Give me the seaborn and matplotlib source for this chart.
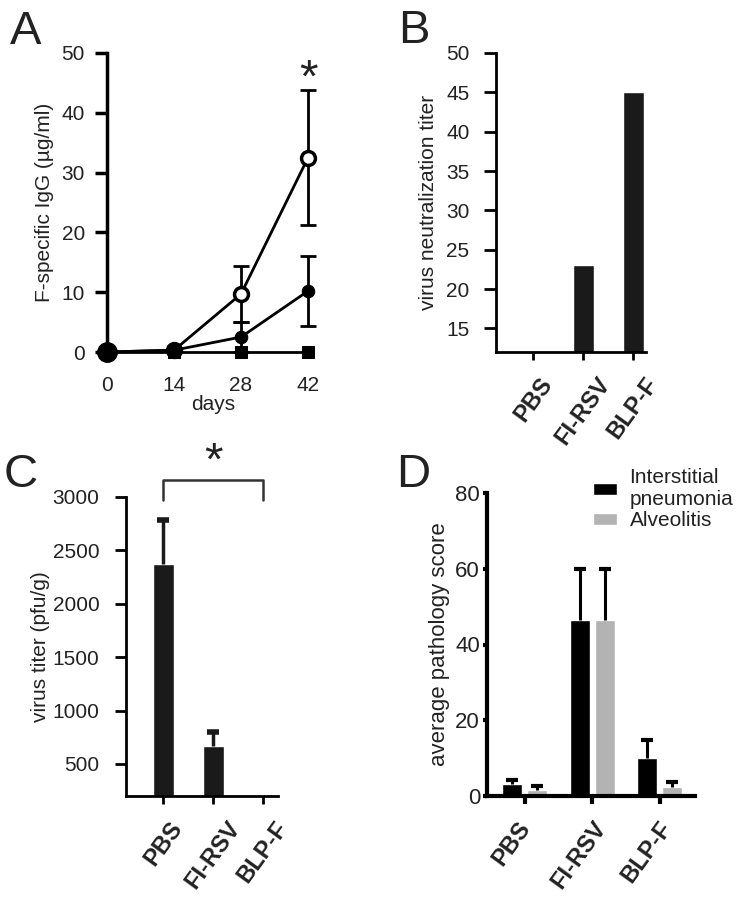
import numpy as np
import pandas as pd
import seaborn as sns
import matplotlib.pyplot as plt
import matplotlib.transforms as mtrans

sns.set_theme(style="ticks")
plt.rcParams['font.family'] = ['Liberation Sans', 'DejaVu Sans']
plt.rcParams['text.color'] = '#222222'
plt.rcParams['axes.labelcolor'] = '#222222'
plt.rcParams['xtick.color'] = '#222222'
plt.rcParams['ytick.color'] = '#222222'

# panel A: F-specific IgG over time
days = [0, 14, 28, 42]
igg_open = [0, 0.3, 9.7, 32.5]
igg_open_err = [0, 0.2, 4.6, 11.3]
igg_filled = [0, 0.3, 2.5, 10.2]
igg_filled_err = [0, 0.2, 2.5, 5.9]
igg_square = [0, 0, 0, 0]

# panel B: neutralization titer
groups = ['PBS', 'FI-RSV', 'BLP-F']
neut_titer = [10, 23, 45]

# panel C: lung virus titer
virus_titer = [2370, 670, 0]
virus_titer_err = [410, 130, 0]

# panel D: pathology scores
path_series = ['Interstitial\npneumonia', 'Alveolitis']
path_interstitial = [3.2, 46.5, 10.0]
path_interstitial_err = [1.1, 13.5, 4.8]
path_alveolitis = [1.5, 46.5, 2.3]
path_alveolitis_err = [1.2, 13.5, 1.3]

W, H = 737, 907
fig = plt.figure(figsize=(W / 100, H / 100), dpi=100)


def box(l, t, r, b):
    return [l / W, 1 - b / H, (r - l) / W, (b - t) / H]


tick_fs = 15
lab_fs = 15
bold_fs = 17
dark = '#1a1a1a'


def style_axes(ax, lw=2, tl=8, tp=8):
    sns.despine(ax=ax)
    for s in ['left', 'bottom']:
        ax.spines[s].set_linewidth(lw)
        ax.spines[s].set_color('black')
    ax.tick_params(width=lw, length=6, labelsize=tick_fs, color='black')
    ax.tick_params(axis='y', length=tl, pad=tp)
    ax.set_facecolor('none')


def up_errorbar(ax, x, y, e, color, lw, cs, ct):
    # only the upper half of the error bar, as in the original
    _, caps, _ = ax.errorbar(x, y, yerr=[np.zeros(len(e)), e], fmt='none',
                             ecolor=color, elinewidth=lw, capsize=cs,
                             capthick=ct)
    caps[0].set_visible(False)


def bold_labels(ax, fs, dx=0):
    ax.tick_params(axis='x', pad=9)
    off = mtrans.ScaledTranslation(dx / 100, 0, fig.dpi_scale_trans)
    for t in ax.get_xticklabels():
        t.set_rotation(54)
        t.set_ha('center')
        t.set_fontweight('bold')
        t.set_fontsize(fs)
        t.set_transform(t.get_transform() + off)


# ---- A ----
axA = fig.add_axes(box(107, 53, 320, 352))
sns.lineplot(x=days, y=igg_square, ax=axA, color='black', lw=2, marker='s',
             markersize=8, markeredgecolor='black', clip_on=False, zorder=3)
axA.errorbar(days, igg_open, yerr=igg_open_err, fmt='none', ecolor='black',
             elinewidth=2, capsize=6, capthick=2, zorder=4, clip_on=False)
sns.lineplot(x=days, y=igg_open, ax=axA, color='black', lw=2, marker='o',
             markersize=10, markerfacecolor='white', markeredgecolor='black',
             markeredgewidth=2.5, clip_on=False, zorder=5)
axA.errorbar(days, igg_filled, yerr=igg_filled_err, fmt='none', ecolor='black',
             elinewidth=2, capsize=6, capthick=2, zorder=6, clip_on=False)
sns.lineplot(x=days, y=igg_filled, ax=axA, color='black', lw=2, marker='o',
             markersize=9, markeredgecolor='black', clip_on=False, zorder=7)
axA.plot([0], [0], 'o', color='black', markersize=14, clip_on=False, zorder=8)
axA.set_xlim(0, 44.5)
axA.set_ylim(0, 50)
axA.set_xticks(days)
axA.set_yticks([0, 10, 20, 30, 40, 50])
style_axes(axA, lw=2.5, tl=9, tp=7)
axA.spines['bottom'].set_visible(False)
axA.tick_params(axis='x', length=0, pad=17)
axA.set_xlabel('days', fontsize=lab_fs, labelpad=0)
axA.set_ylabel('F-specific IgG (µg/ml)', fontsize=lab_fs, labelpad=5)
axA.text(42, 45.5, '*', ha='center', va='center', fontsize=34)

# ---- B ----
axB = fig.add_axes(box(496, 53, 646, 352))
sns.barplot(x=groups, y=neut_titer, ax=axB, color=dark, width=0.42,
            saturation=1)
axB.set_xlim(-0.74, 2.26)
axB.set_ylim(12, 50)
axB.set_yticks([15, 20, 25, 30, 35, 40, 45, 50])
style_axes(axB, tl=9, tp=10)
axB.set_ylabel('virus neutralization titer', fontsize=lab_fs, labelpad=6)
bold_labels(axB, bold_fs)

# ---- C ----
axC = fig.add_axes(box(126, 497, 278, 796))
sns.barplot(x=groups, y=virus_titer, ax=axC, color=dark, width=0.42,
            saturation=1)
up_errorbar(axC, [0, 1, 2], virus_titer, virus_titer_err, dark, 2.5, 4, 4)
axC.set_xlim(-0.74, 2.3)
axC.set_ylim(200, 3000)
axC.set_yticks([500, 1000, 1500, 2000, 2500, 3000])
style_axes(axC, tl=8, tp=11)
axC.set_ylabel('virus titer (pfu/g)', fontsize=lab_fs, labelpad=2)
bold_labels(axC, bold_fs)
axC.plot([0, 0, 2, 2], [2970, 3160, 3160, 2970], color='#333333', lw=1.8,
         clip_on=False)
axC.text(1, 3320, '*', ha='center', va='center', fontsize=34)

# ---- D ----
axD = fig.add_axes(box(487, 493, 695, 796))
path_df = pd.DataFrame({
    'group': groups * 2,
    'series': [path_series[0]] * 3 + [path_series[1]] * 3,
    'score': path_interstitial + path_alveolitis,
})
sns.barplot(data=path_df, x='group', y='score', hue='series', ax=axD,
            palette=['black', '#b3b3b3'], width=0.74, gap=0.2, saturation=1)
errs = path_interstitial_err + path_alveolitis_err
vals = path_interstitial + path_alveolitis
xcs = [p.get_x() + p.get_width() / 2 for p in axD.patches[:6]]
up_errorbar(axD, xcs, vals, errs, 'black', 2.2, 4, 3)
axD.set_xlim(-0.56, 2.52)
axD.set_ylim(0, 80)
axD.set_yticks([0, 20, 40, 60, 80])
style_axes(axD, lw=3, tl=3, tp=2)
axD.tick_params(axis='y', labelsize=tick_fs + 1)
axD.set_xlabel('')
axD.set_ylabel('average pathology score', fontsize=lab_fs + 1, labelpad=4)
bold_labels(axD, bold_fs, dx=-13)
leg = axD.legend(loc='upper left', bbox_to_anchor=(0.47, 1.11), frameon=False,
                 fontsize=lab_fs, handlelength=1.15, handleheight=0.5,
                 handletextpad=0.6, labelspacing=0.1, borderaxespad=0)

# panel letters
for lab, x, y in [('A', 10, 44), ('B', 398, 43), ('C', 4, 487), ('D', 396, 487)]:
    fig.text(x / W, 1 - y / H, lab, fontsize=34, ha='left', va='baseline')

fig.savefig('out.png', dpi=100, facecolor='white')
